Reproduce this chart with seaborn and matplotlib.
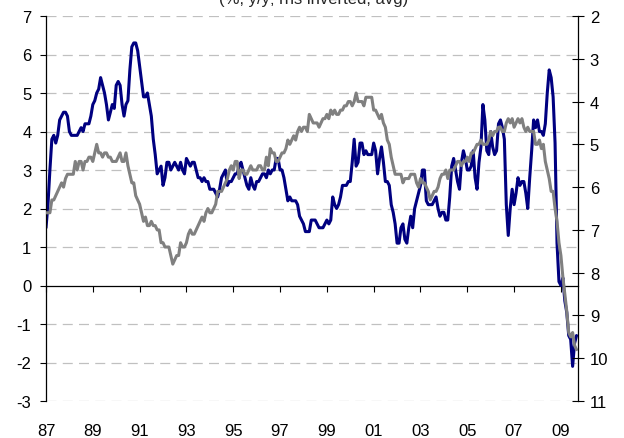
import numpy as np
import pandas as pd
import matplotlib
matplotlib.use("Agg")
import matplotlib.pyplot as plt
import seaborn as sns

# Monthly data, Jan 1987 - Sep 2009
cpi_yoy = [
    1.5, 2.1, 3.0, 3.8, 3.9, 3.7, 3.9, 4.3, 4.4, 4.5, 4.5, 4.4,   # 1987
    4.0, 3.9, 3.9, 3.9, 3.9, 4.0, 4.1, 4.0, 4.2, 4.2, 4.2, 4.4,   # 1988
    4.7, 4.8, 5.0, 5.1, 5.4, 5.2, 5.0, 4.7, 4.3, 4.5, 4.7, 4.6,   # 1989
    5.2, 5.3, 5.2, 4.7, 4.4, 4.7, 4.8, 5.6, 6.2, 6.3, 6.3, 6.1,   # 1990
    5.7, 5.3, 4.9, 4.9, 5.0, 4.7, 4.4, 3.8, 3.4, 2.9, 3.0, 3.1,   # 1991
    2.6, 2.8, 3.2, 3.2, 3.0, 3.1, 3.2, 3.1, 3.0, 3.2, 3.0, 2.9,   # 1992
    3.3, 3.2, 3.1, 3.2, 3.2, 3.0, 2.8, 2.8, 2.7, 2.8, 2.7, 2.7,   # 1993
    2.5, 2.5, 2.5, 2.4, 2.3, 2.5, 2.8, 2.9, 3.0, 2.6, 2.7, 2.7,   # 1994
    2.8, 2.9, 2.9, 3.1, 3.2, 3.0, 2.8, 2.6, 2.5, 2.8, 2.6, 2.5,   # 1995
    2.7, 2.7, 2.8, 2.9, 2.9, 2.8, 3.0, 2.9, 3.0, 3.0, 3.3, 3.3,   # 1996
    3.0, 3.0, 2.8, 2.5, 2.2, 2.3, 2.2, 2.2, 2.2, 2.1, 1.8, 1.7,   # 1997
    1.6, 1.4, 1.4, 1.4, 1.7, 1.7, 1.7, 1.6, 1.5, 1.5, 1.5, 1.6,   # 1998
    1.7, 1.6, 1.7, 2.3, 2.1, 2.0, 2.1, 2.3, 2.6, 2.6, 2.6, 2.7,   # 1999
    2.7, 3.2, 3.8, 3.1, 3.2, 3.7, 3.7, 3.4, 3.5, 3.4, 3.4, 3.4,   # 2000
    3.7, 3.5, 2.9, 3.3, 3.6, 3.2, 2.7, 2.7, 2.6, 2.1, 1.9, 1.6,   # 2001
    1.1, 1.1, 1.5, 1.6, 1.2, 1.1, 1.5, 1.8, 1.5, 2.0, 2.2, 2.4,   # 2002
    2.6, 3.0, 3.0, 2.2, 2.1, 2.1, 2.1, 2.2, 2.3, 2.0, 1.8, 1.9,   # 2003
    1.9, 1.7, 1.7, 2.3, 3.1, 3.3, 3.0, 2.7, 2.5, 3.2, 3.5, 3.3,   # 2004
    3.0, 3.0, 3.1, 3.5, 2.8, 2.5, 3.2, 3.6, 4.7, 4.3, 3.5, 3.4,   # 2005
    4.0, 3.6, 3.4, 3.5, 4.2, 4.3, 4.1, 3.8, 2.1, 1.3, 2.0, 2.5,   # 2006
    2.1, 2.4, 2.8, 2.6, 2.7, 2.7, 2.4, 2.0, 2.8, 3.5, 4.3, 4.1,   # 2007
    4.3, 4.0, 4.0, 3.9, 4.2, 5.0, 5.6, 5.4, 4.9, 3.7, 1.1, 0.1,   # 2008
    0.0, 0.2, -0.4, -0.7, -1.3, -1.4, -2.1, -1.5, -1.3,           # 2009
]
unemployment = [
    6.6, 6.6, 6.6, 6.3, 6.3, 6.2, 6.1, 6.0, 5.9, 6.0, 5.8, 5.7,   # 1987
    5.7, 5.7, 5.7, 5.4, 5.6, 5.4, 5.4, 5.6, 5.4, 5.4, 5.3, 5.3,   # 1988
    5.4, 5.2, 5.0, 5.2, 5.2, 5.3, 5.2, 5.2, 5.3, 5.3, 5.4, 5.4,   # 1989
    5.4, 5.3, 5.2, 5.4, 5.4, 5.2, 5.5, 5.7, 5.9, 5.9, 6.2, 6.3,   # 1990
    6.4, 6.6, 6.8, 6.7, 6.9, 6.9, 6.8, 6.9, 6.9, 7.0, 7.0, 7.3,   # 1991
    7.3, 7.4, 7.4, 7.4, 7.6, 7.8, 7.7, 7.6, 7.6, 7.3, 7.4, 7.4,   # 1992
    7.3, 7.1, 7.0, 7.1, 7.1, 7.0, 6.9, 6.8, 6.7, 6.8, 6.6, 6.5,   # 1993
    6.6, 6.6, 6.5, 6.4, 6.1, 6.1, 6.1, 6.0, 5.9, 5.8, 5.6, 5.5,   # 1994
    5.6, 5.4, 5.4, 5.8, 5.6, 5.6, 5.7, 5.7, 5.6, 5.5, 5.6, 5.6,   # 1995
    5.6, 5.5, 5.5, 5.6, 5.6, 5.3, 5.5, 5.1, 5.2, 5.2, 5.4, 5.4,   # 1996
    5.3, 5.2, 5.2, 5.1, 4.9, 5.0, 4.9, 4.8, 4.9, 4.7, 4.6, 4.7,   # 1997
    4.6, 4.6, 4.7, 4.3, 4.4, 4.5, 4.5, 4.5, 4.6, 4.5, 4.4, 4.4,   # 1998
    4.3, 4.4, 4.2, 4.3, 4.2, 4.3, 4.3, 4.2, 4.2, 4.1, 4.1, 4.0,   # 1999
    4.0, 4.1, 4.0, 3.8, 4.0, 4.0, 4.0, 4.1, 3.9, 3.9, 3.9, 3.9,   # 2000
    4.2, 4.2, 4.3, 4.4, 4.3, 4.5, 4.6, 4.9, 5.0, 5.3, 5.5, 5.7,   # 2001
    5.7, 5.7, 5.7, 5.9, 5.8, 5.8, 5.8, 5.7, 5.7, 5.7, 5.9, 6.0,   # 2002
    5.8, 5.9, 5.9, 6.0, 6.1, 6.3, 6.2, 6.1, 6.1, 6.0, 5.8, 5.7,   # 2003
    5.7, 5.6, 5.8, 5.6, 5.6, 5.6, 5.5, 5.4, 5.4, 5.5, 5.4, 5.4,   # 2004
    5.3, 5.4, 5.2, 5.2, 5.1, 5.0, 5.0, 4.9, 5.0, 5.0, 5.0, 4.9,   # 2005
    4.7, 4.8, 4.7, 4.7, 4.6, 4.6, 4.7, 4.7, 4.5, 4.4, 4.5, 4.4,   # 2006
    4.6, 4.5, 4.4, 4.5, 4.4, 4.6, 4.7, 4.6, 4.7, 4.7, 4.7, 5.0,   # 2007
    5.0, 4.9, 5.1, 5.0, 5.4, 5.6, 5.8, 6.1, 6.1, 6.5, 6.8, 7.3,   # 2008
    7.6, 8.1, 8.5, 8.9, 9.4, 9.5, 9.4, 9.7, 9.8,                  # 2009
]
start_year = 1987
tick_years = list(range(1987, 2010, 2))
tick_labels = ["87", "89", "91", "93", "95", "97", "99", "01", "03", "05", "07", "09"]
left_ticks = list(range(-3, 8))
right_ticks = list(range(2, 12))
title_text = "(%, y/y; rhs inverted, avg)"

n = len(cpi_yoy)
t = start_year + np.arange(n) / 12.0
df = pd.DataFrame({"t": t, "cpi": cpi_yoy, "unemp": unemployment})

sns.set_style("white")
plt.rcParams["font.family"] = ["Liberation Sans", "DejaVu Sans"]
plt.rcParams["font.size"] = 12

W, H = 624, 439
fig = plt.figure(figsize=(W / 100, H / 100), dpi=100)
ax = fig.add_axes([46 / W, 37 / H, 532 / W, 385 / H])
ax2 = ax.twinx()

navy = "#000080"
grey = "#808080"

sns.lineplot(data=df, x="t", y="cpi", ax=ax, color=navy, linewidth=2.2, legend=False)
sns.lineplot(data=df, x="t", y="unemp", ax=ax2, color=grey, linewidth=2.2, legend=False)

ax.set_xlim(1987, 2009.73)
ax.set_ylim(-3, 7)
ax2.set_ylim(11, 2)

# gridlines (dashed) at left ticks
for v in left_ticks:
    if v != 0:
        ax.axhline(v, color="#c0c0c0", linewidth=0.9, linestyle=(0, (8, 5)), zorder=0)

# left axis
ax.set_yticks(left_ticks)
ax.set_yticklabels([str(v) for v in left_ticks])
ax.tick_params(axis="y", direction="out", length=4.5, width=0.8, pad=6, colors="black", labelsize=12)
for s in ["top", "right", "bottom"]:
    ax.spines[s].set_visible(False)
ax.spines["left"].set_color("black")
ax.spines["left"].set_linewidth(0.9)

# right axis
ax2.set_yticks(right_ticks)
ax2.set_yticklabels([str(v) for v in right_ticks])
ax2.tick_params(axis="y", direction="inout", length=9, width=0.8, pad=4, colors="black", labelsize=12)
for s in ["top", "left", "bottom"]:
    ax2.spines[s].set_visible(False)
ax2.spines["right"].set_color("black")
ax2.spines["right"].set_linewidth(0.9)

# x labels at bottom (no ticks)
ax.set_xticks(tick_years)
ax.set_xticklabels(tick_labels)
ax.tick_params(axis="x", length=0, pad=16, labelsize=12, colors="black")
ax.set_xlabel("")
ax.set_ylabel("")
ax2.set_xlabel("")
ax2.set_ylabel("")

# zero line with ticks
sec = ax.secondary_xaxis(0.3)
sec.set_xticks(tick_years)
sec.set_xticklabels([])
sec.tick_params(axis="x", direction="out", length=4.5, width=0.8, colors="black")
sec.spines["bottom"].set_color("black")
sec.spines["bottom"].set_linewidth(0.9)

# title partly cut off at top edge, as in the reference
fig.text(0.503, 1 - 4 / H, title_text, ha="center", va="baseline", fontsize=12)

fig.savefig("out.png", dpi=100)
